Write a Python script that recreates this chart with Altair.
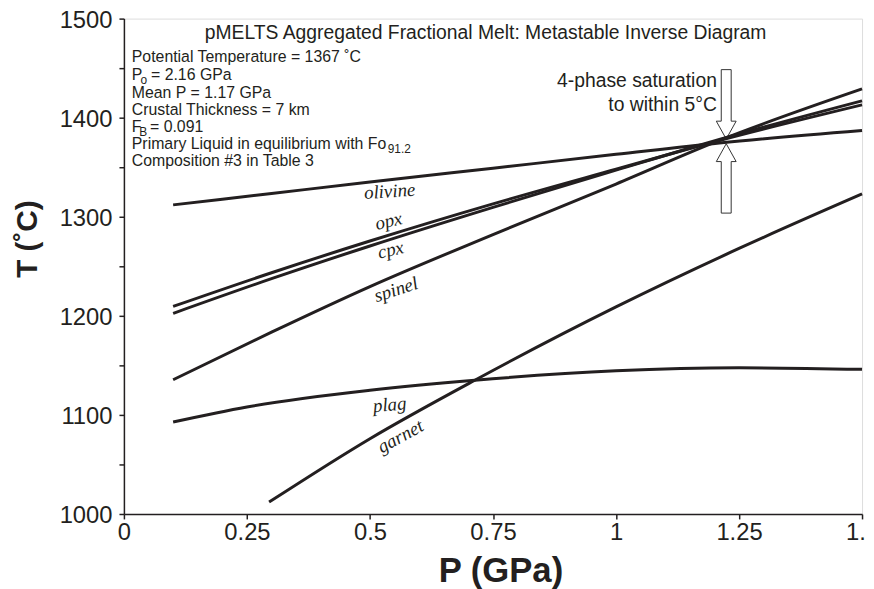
import altair as alt
import pandas as pd

INK = "#231f20"
SANS = "Liberation Sans, Arial, Helvetica, sans-serif"
SERIF = "Liberation Serif, Times New Roman, serif"

# ---- phase saturation curves: P (GPa), T (deg C) ----
olivine_P = [0.1, 0.3, 0.5, 0.75, 1.0, 1.21, 1.5]
olivine_T = [1312, 1323.5, 1335, 1349, 1363, 1374.5, 1387]
opx_P = [0.1, 0.3, 0.5, 0.75, 1.0, 1.21, 1.5]
opx_T = [1209.5, 1243.5, 1275.5, 1313, 1348, 1377, 1413]
cpx_P = [0.1, 0.3, 0.5, 0.75, 1.0, 1.21, 1.5]
cpx_T = [1202.5, 1237.5, 1270.5, 1309.5, 1347, 1378, 1417]
spinel_P = [0.1, 0.3, 0.5, 0.75, 1.0, 1.21, 1.5]
spinel_T = [1135.5, 1183.5, 1229.5, 1282, 1333, 1377, 1429]
garnet_P = [0.295, 0.5, 0.713, 1.0, 1.25, 1.5]
garnet_T = [1012, 1076, 1135, 1209, 1268, 1323]
plag_P = [0.1, 0.25, 0.5, 0.713, 1.0, 1.25, 1.5]
plag_T = [1092.8, 1108, 1124.8, 1135, 1144.5, 1147.5, 1146]

# ---- curve labels ----
label_text = ["olivine", "opx", "cpx", "spinel", "plag", "garnet"]
label_P = [0.540, 0.538, 0.542, 0.553, 0.540, 0.562]
label_T = [1325.6, 1295.6, 1266.5, 1226.4, 1110.2, 1078.2]
label_angle = [356, 347, 347, 342, 355, 331]

# ---- axis ticks ----
x_ticks = [0, 0.25, 0.5, 0.75, 1.0, 1.25, 1.5]
y_ticks = [1000, 1050, 1100, 1150, 1200, 1250, 1300, 1350, 1400, 1450, 1500]

# ---- info text block ----
info_text = ["Potential Temperature = 1367 \u02daC", "P", "Mean P = 1.17 GPa",
             "Crustal Thickness = 7 km", "F", "Primary Liquid in equilibrium with Fo",
             "Composition #3 in Table 3"]
info_P = [0.016, 0.016, 0.016, 0.016, 0.016, 0.016, 0.016]
info_T = [1455.9, 1437.9, 1419.8, 1402.8, 1385.8, 1368.7, 1351.7]
rest_text = ["= 2.16 GPa", "= 0.091"]
rest_P = [0.055, 0.053]
rest_T = [1437.9, 1385.8]
sub_text = ["o", "B", "91.2"]
sub_P = [0.0335, 0.031, 0.536]
sub_T = [1433.9, 1381.8, 1364.7]

title_text = ["pMELTS Aggregated Fractional Melt: Metastable Inverse Diagram"]
title_P = [0.735]
title_T = [1479]

note_text = ["4-phase saturation", "to within 5\u00b0C"]
note_P = [1.205, 1.205]
note_T = [1430.9, 1406.8]

# ---- saturation arrows (centre of each arrow symbol) ----
arrow_up_P = [1.224]
arrow_up_T = [1413.5]
arrow_dn_P = [1.224]
arrow_dn_T = [1338.7]
UP_PATH = "M-0.143,-1 L0.143,-1 L0.143,0.486 L0.286,0.486 L0,1 L-0.286,0.486 L-0.143,0.486 Z"
DN_PATH = "M0,-1 L0.286,-0.486 L0.143,-0.486 L0.143,1 L-0.143,1 L-0.143,-0.486 L-0.286,-0.486 Z"

rows = []
for name, ps, ts in [("olivine", olivine_P, olivine_T), ("opx", opx_P, opx_T),
                     ("cpx", cpx_P, cpx_T), ("spinel", spinel_P, spinel_T),
                     ("garnet", garnet_P, garnet_T), ("plag", plag_P, plag_T)]:
    for p, t in zip(ps, ts):
        rows.append({"phase": name, "P": p, "T": t})
curves = pd.DataFrame(rows)

xscale = alt.Scale(domain=[0, 1.5], nice=False, zero=False)
yscale = alt.Scale(domain=[1000, 1500], nice=False, zero=False)

xaxis = alt.Axis(values=x_ticks, format=".3~g", grid=False, tickSize=5, tickWidth=1.5,
                 tickColor=INK, domainColor=INK, domainWidth=1.5,
                 labelFont=SANS, labelFontSize=24, labelColor=INK, labelPadding=2,
                 labelFlush=False, labelOverlap=False,
                 titleFont=SANS, titleFontSize=35, titleFontWeight="bold", titleColor=INK,
                 titleX=380, titleY=68, titleAlign="center", titleBaseline="alphabetic")
yaxis = alt.Axis(values=y_ticks, labelExpr="datum.value % 100 == 0 ? datum.label : ''",
                 format="d", grid=False, tickSize=5, tickWidth=1.5,
                 tickColor=INK, domainColor=INK, domainWidth=1.5,
                 labelFont=SANS, labelFontSize=24, labelColor=INK, labelPadding=7,
                 labelOffset=2, labelFlush=False, labelOverlap=False,
                 titleFont=SANS, titleFontSize=30, titleFontWeight="bold", titleColor=INK,
                 titleAngle=270, titleX=-97, titleY=222, titleAlign="center",
                 titleBaseline="middle")

lines = alt.Chart(curves).mark_line(color=INK, strokeWidth=3, interpolate="monotone").encode(
    x=alt.X("P:Q", scale=xscale, axis=xaxis, title="P (GPa)"),
    y=alt.Y("T:Q", scale=yscale, axis=yaxis, title="T (\u02daC)"),
    detail="phase:N",
)

def pts(ps, ts, extra=None):
    d = {"P": ps, "T": ts}
    if extra:
        d.update(extra)
    return pd.DataFrame(d)

enc = dict(x=alt.X("P:Q", scale=xscale), y=alt.Y("T:Q", scale=yscale))

arrow_up = alt.Chart(pts(arrow_up_P, arrow_up_T)).mark_point(
    shape=UP_PATH, size=4900, filled=True, fill="white", stroke="#333333",
    strokeWidth=1, opacity=1).encode(**enc)
arrow_dn = alt.Chart(pts(arrow_dn_P, arrow_dn_T)).mark_point(
    shape=DN_PATH, size=4900, filled=True, fill="white", stroke="#333333",
    strokeWidth=1, opacity=1).encode(**enc)

labels = alt.Chart(pts(label_P, label_T, {"text": label_text, "angle": label_angle})).mark_text(
    font=SERIF, fontStyle="italic", fontSize=19, color=INK, align="center", baseline="middle"
).encode(**enc, text="text:N", angle=alt.Angle("angle:Q", scale=None))

info = alt.Chart(pts(info_P, info_T, {"text": info_text})).mark_text(
    font=SANS, fontSize=16, color=INK, align="left", baseline="alphabetic"
).encode(**enc, text="text:N")
rest = alt.Chart(pts(rest_P, rest_T, {"text": rest_text})).mark_text(
    font=SANS, fontSize=16, color=INK, align="left", baseline="alphabetic"
).encode(**enc, text="text:N")
subs = alt.Chart(pts(sub_P, sub_T, {"text": sub_text})).mark_text(
    font=SANS, fontSize=12, color=INK, align="left", baseline="alphabetic"
).encode(**enc, text="text:N")

title = alt.Chart(pts(title_P, title_T, {"text": title_text})).mark_text(
    font=SANS, fontSize=19.5, color=INK, align="center", baseline="alphabetic"
).encode(**enc, text="text:N")
notes = alt.Chart(pts(note_P, note_T, {"text": note_text})).mark_text(
    font=SANS, fontSize=19.5, color=INK, align="right", baseline="alphabetic"
).encode(**enc, text="text:N")

chart = alt.layer(arrow_up, arrow_dn, lines, labels, info, rest, subs, title, notes).properties(
    width=745, height=500,
    autosize=alt.AutoSizeParams(type="none"),
    padding={"left": 117, "top": 8, "right": 4, "bottom": 73},
).configure_view(stroke=INK, strokeWidth=1.5).configure(background="white")

chart.save("out.html", embed_options={"renderer": "svg", "actions": False})
